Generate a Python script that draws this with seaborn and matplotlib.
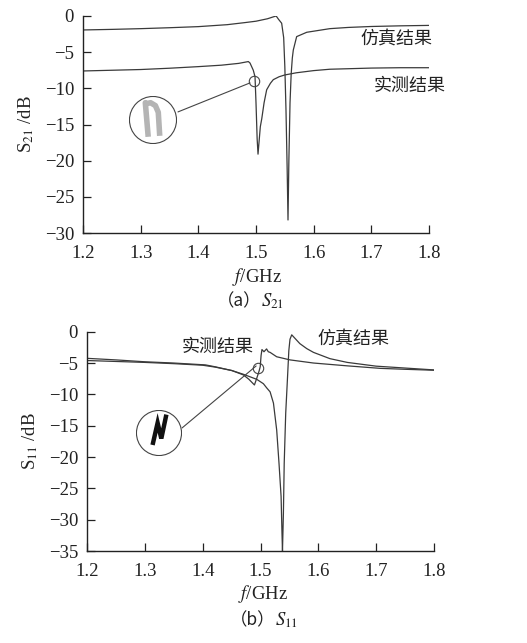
import matplotlib
matplotlib.use("Agg")
import matplotlib.pyplot as plt
import seaborn as sns
import numpy as np
import pandas as pd
from matplotlib.patches import Circle

# ---- data ----
# (a) S21
s21_sim_f = [1.20, 1.25, 1.30, 1.35, 1.40, 1.45, 1.48, 1.50, 1.52, 1.530, 1.535,
             1.539, 1.5445, 1.548, 1.550, 1.552, 1.554, 1.5555, 1.557, 1.559,
             1.561, 1.563, 1.5647, 1.5705, 1.588, 1.600, 1.628, 1.66, 1.70, 1.75, 1.80]
s21_sim_db = [-1.93, -1.85, -1.75, -1.62, -1.47, -1.20, -0.92, -0.72, -0.38, -0.12, 0.0,
              -0.45, -1.0, -3.0, -7.0, -13.0, -21.0, -28.2, -20.0, -12.0,
              -8.0, -5.8, -4.7, -2.85, -2.25, -2.1, -1.75, -1.58, -1.45, -1.36, -1.3]
s21_meas_f = [1.20, 1.25, 1.30, 1.35, 1.40, 1.44, 1.47, 1.4867, 1.4896, 1.4953,
              1.4983, 1.500, 1.502, 1.5035, 1.5075, 1.510, 1.514, 1.5185, 1.525,
              1.530, 1.540, 1.550, 1.570, 1.600, 1.628, 1.70, 1.75, 1.80]
s21_meas_db = [-7.6, -7.5, -7.4, -7.22, -7.0, -6.8, -6.55, -6.3, -6.5, -7.5,
               -8.4, -12.0, -17.0, -19.1, -15.3, -14.2, -12.0, -10.2, -9.3,
               -8.8, -8.4, -8.15, -7.85, -7.55, -7.36, -7.2, -7.15, -7.15]

# (b) S11
s11_sim_f = [1.20, 1.25, 1.30, 1.35, 1.40, 1.4216, 1.4505, 1.4705, 1.4935, 1.505,
             1.511, 1.5166, 1.5224, 1.528, 1.532, 1.5356, 1.537, 1.538, 1.5396,
             1.541, 1.5436, 1.5465, 1.549, 1.551, 1.554, 1.558, 1.568, 1.58,
             1.5916, 1.62, 1.65, 1.70, 1.75, 1.80]
s11_sim_db = [-4.6, -4.75, -4.9, -5.1, -5.35, -5.65, -6.2, -6.8, -7.6, -8.3,
              -9.0, -9.6, -11.4, -15.7, -21.0, -26.3, -31.6, -35.0, -29.0,
              -21.0, -13.0, -7.7, -3.0, -1.2, -0.5, -0.9, -1.9, -2.7,
              -3.3, -4.3, -4.9, -5.5, -5.8, -6.1]
s11_meas_f = [1.20, 1.25, 1.30, 1.35, 1.405, 1.4216, 1.4505, 1.4705, 1.480, 1.4895,
              1.494, 1.4975, 1.4995, 1.501, 1.5025, 1.506, 1.5105, 1.5135, 1.5166,
              1.528, 1.551, 1.5916, 1.65, 1.707, 1.75, 1.80]
s11_meas_db = [-4.25, -4.5, -4.8, -5.0, -5.3, -5.6, -6.2, -6.9, -7.6, -8.5,
               -7.3, -6.3, -5.6, -3.8, -2.85, -3.2, -2.75, -3.2, -3.3,
               -4.0, -4.5, -5.0, -5.45, -5.85, -6.0, -6.15]

x_ticks = [1.2, 1.3, 1.4, 1.5, 1.6, 1.7, 1.8]
s21_yticks = [0, -5, -10, -15, -20, -25, -30]
s11_yticks = [0, -5, -10, -15, -20, -25, -30, -35]

# magnified sketches inside the big circles (inset axes units)
zoom_a_x = [0.40, 0.34, 0.36, 0.45, 0.55, 0.61, 0.64]
zoom_a_y = [0.15, 0.86, 0.84, 0.86, 0.80, 0.66, 0.17]
zoom_b_x = [0.36, 0.47, 0.55, 0.66]
zoom_b_y = [0.24, 0.72, 0.38, 0.90]

sns.set_style("ticks")
plt.rcParams["font.family"] = ["Liberation Serif", "Noto Sans CJK SC"]
plt.rcParams["mathtext.fontset"] = "stix"
plt.rcParams["axes.unicode_minus"] = True

W, H = 527, 643
fig = plt.figure(figsize=(W / 100, H / 100), dpi=100)

line_col = "#3a3a3a"
txt_col = "#222222"
cjk = ["Noto Sans CJK SC", "Liberation Serif"]


def px_axes(left, top, right, bottom):
    return fig.add_axes([left / W, 1 - bottom / H, (right - left) / W, (bottom - top) / H])


def style_axes(ax, yticks, ylim):
    ax.set_xlim(1.2, 1.8)
    ax.set_ylim(*ylim)
    ax.set_xticks(x_ticks)
    ax.set_xticklabels([f"{v:.1f}" for v in x_ticks])
    ax.set_yticks(yticks)
    ax.set_yticklabels([f"{v}".replace("-", "\u2212") for v in yticks])
    ax.tick_params(axis="x", direction="in", length=6, width=0.9, labelsize=13.5, pad=8.5, colors=txt_col)
    ax.tick_params(axis="y", direction="in", length=6, width=0.9, labelsize=13.5, pad=6.5, colors=txt_col)
    for s in ["left", "bottom"]:
        ax.spines[s].set_linewidth(1.0)
        ax.spines[s].set_color(txt_col)
    sns.despine(ax=ax)


def draw(ax, f, db):
    df = pd.DataFrame({"f": f, "db": db})
    sns.lineplot(data=df, x="f", y="db", ax=ax, color=line_col, lw=0.9,
                 estimator=None, sort=False)


def caption(xc, yc, tag, sym):
    fig.text(xc / W, 1 - yc / H, tag, family=cjk, fontsize=12.5, ha="right", va="center", color=txt_col)
    fig.text(xc / W, 1 - yc / H, sym, fontsize=13.5, ha="left", va="center", color=txt_col)


# ---- (a) S21 ----
ax1 = px_axes(83, 16, 429, 233)
draw(ax1, s21_sim_f, s21_sim_db)
draw(ax1, s21_meas_f, s21_meas_db)
style_axes(ax1, s21_yticks, (-30, 0))
ax1.set_xlabel("")
ax1.set_ylabel(r"S$_{21}$ /dB", fontsize=13.5, labelpad=6, color=txt_col)
ax1.text(1.743, -3.3, "仿真结果", family=cjk, fontsize=13, ha="center", va="center", color=txt_col)
ax1.text(1.767, -9.7, "实测结果", family=cjk, fontsize=13, ha="center", va="center", color=txt_col)
ax1.plot([1.4965], [-9.0], marker="o", ms=7.5, mfc="none", mec="#444444", mew=0.8)
ax1.plot([1.3647, 1.4896], [-13.26, -9.25], color="#444444", lw=0.8)
fig.text(257 / W, 1 - 277 / H, r"$f$/GHz", fontsize=13.5, ha="center", va="center", color=txt_col)
caption(261, 301, "（a）", r"$S_{21}$")

ins1 = px_axes(129, 96, 177, 144)
ins1.set_xlim(0, 1)
ins1.set_ylim(0, 1)
ins1.axis("off")
ins1.add_patch(Circle((0.5, 0.5), 0.49, fill=False, ec="#444444", lw=0.8))
ins1.plot(zoom_a_x, zoom_a_y, color="#b4b4b4", lw=4, solid_joinstyle="round", solid_capstyle="butt")

# ---- (b) S11 ----
ax2 = px_axes(87, 331.7, 434, 551)
draw(ax2, s11_sim_f, s11_sim_db)
draw(ax2, s11_meas_f, s11_meas_db)
style_axes(ax2, s11_yticks, (-35, 0))
ax2.set_xlabel("")
ax2.set_ylabel(r"S$_{11}$ /dB", fontsize=13.5, labelpad=6, color=txt_col)
ax2.text(1.4266, -2.45, "实测结果", family=cjk, fontsize=13, ha="center", va="center", color=txt_col)
ax2.text(1.660, -1.3, "仿真结果", family=cjk, fontsize=13, ha="center", va="center", color=txt_col)
ax2.plot([1.4958], [-5.79], marker="o", ms=7.5, mfc="none", mec="#444444", mew=0.8)
ax2.plot([1.3644, 1.4924], [-15.36, -5.47], color="#444444", lw=0.8)
fig.text(263 / W, 1 - 594 / H, r"$f$/GHz", fontsize=13.5, ha="center", va="center", color=txt_col)
caption(275, 620, "（b）", r"$S_{11}$")

ins2 = px_axes(136, 410, 182, 456)
ins2.set_xlim(0, 1)
ins2.set_ylim(0, 1)
ins2.axis("off")
ins2.add_patch(Circle((0.5, 0.5), 0.49, fill=False, ec="#444444", lw=0.8))
ins2.plot(zoom_b_x, zoom_b_y, color="#111111", lw=3.2, solid_joinstyle="miter", solid_capstyle="butt")

fig.savefig("out.png", dpi=100)
